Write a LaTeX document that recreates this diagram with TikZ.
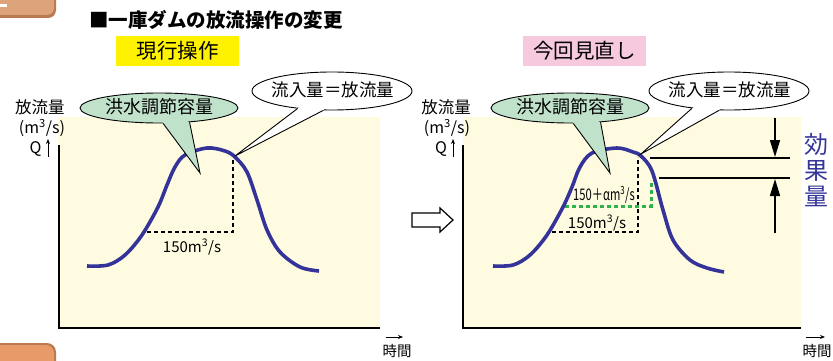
\documentclass[tikz,border=0pt]{standalone}
\usepackage{fontspec}
\setmainfont{Noto Sans CJK JP}
\usepackage{graphicx}
\usetikzlibrary{shapes.geometric,arrows.meta,calc}
\definecolor{cream}{HTML}{FFFBE1}
\definecolor{navy}{HTML}{33339A}
\definecolor{bubblegreen}{HTML}{C0E2CB}
\definecolor{ylw}{HTML}{FFF200}
\definecolor{pnk}{HTML}{F6C9DF}
\definecolor{grn}{HTML}{2DB34A}
\definecolor{wood}{HTML}{DDA47C}
\definecolor{wooddark}{HTML}{B97A50}
\definecolor{woodorange}{HTML}{E89A68}
\definecolor{effblue}{HTML}{36369A}
\tikzset{
  fs/.style={font=\fontsize{#1}{#1}\selectfont},
  fsb/.style={font=\fontsize{#1}{#1}\selectfont\bfseries},
  txt/.style={inner sep=0pt},
  bubbleshape/.style={ellipse, draw=black, line width=0.9pt, inner sep=0pt,
    minimum width=158pt, minimum height=#1},
  bubbleline/.style={black, line width=0.9pt, line join=miter},
  hydro/.style={navy, line width=3.6pt},
  guide/.style={black, line width=1.2pt, dash pattern=on 4pt off 3pt},
  greenguide/.style={grn, line width=3pt, dash pattern=on 4pt off 3pt},
  axisline/.style={black, line width=1.4pt},
  tagbox/.style={inner sep=0pt, minimum width=123pt, minimum height=30pt, fs=20.5},
  smallarrow/.style={black, line width=0.9pt, -{Stealth[length=5pt,width=4pt]}},
  effarrow/.style={black, line width=1.5pt, -{Triangle[length=17pt,width=10pt]}},
  effline/.style={black, line width=1.5pt},
}
\begin{document}
\begin{tikzpicture}[x=1pt,y=-1pt]
\useasboundingbox (0,0) rectangle (833,361);
\clip (0,0) rectangle (833,361);
\fill[white] (0,0) rectangle (833,361);

% wooden decorations (clipped pieces)
\fill[wooddark, rounded corners=8pt] (-20,-20) rectangle (56,18);
\fill[wood, rounded corners=7pt] (-20,-20) rectangle (54,15);
\fill[white] (0,4) rectangle (7,7);
\fill[wooddark, rounded corners=9pt] (-20,343) rectangle (56,380);
\fill[woodorange, rounded corners=8pt] (-20,345) rectangle (54,380);

% title
\node[txt, fsb=19.5] (title) at (216,20) {■一庫ダムの放流操作の変更};
\node[tagbox, fill=ylw] (tagL) at (177.5,51) {現行操作};
\node[tagbox, fill=pnk] (tagR) at (584.5,51) {今回見直し};

% ===== left panel =====
\fill[cream] (58,117) rectangle (380,328);
\draw[axisline] (59,145) -- (59,328) -- (380,328);
\node[txt, fs=16.5] (ylabL) at (40,107) {放流量};
\node[txt, fs=16] (unitL) at (42,128) {(m\textsuperscript{3}/s)};
\node[txt, fs=16] (qL) at (35.5,149) {Q};
\coordinate (qaL1) at (48,157);
\coordinate (qaL2) at (48,139);
\draw[smallarrow] (qaL1) -- (qaL2);
\node[txt, fs=14.5] (timeL) at (397,351) {時間};
\coordinate (taL1) at (386,337);
\coordinate (taL2) at (403,337);
\draw[smallarrow] (taL1) -- (taL2);

\coordinate (dL1) at (147,232);
\coordinate (dL2) at (233,232);
\coordinate (dL3) at (233,156);
\draw[guide] (dL1) -- (dL2) -- (dL3);
\node[txt, fs=15] (qL150) at (192,247) {150m\textsuperscript{3}/s};

\draw[hydro] plot[smooth, tension=0.55] coordinates {
 (87,266) (108,265) (125,255) (142,235) (158,207) (167,185)
 (175,167) (185,155) (207,148) (225,151) (235,157) (247,172) (257,200)
 (267,230) (280,252) (300,267) (319,271)};

% bubbles left
\node[bubbleshape=30pt, fill=bubblegreen] (gL) at (159,108) {};
\coordinate (gLtip) at (200,173);
\fill[bubblegreen] ($(gL.center)!0.75!(gL.285)$) -- (gL.285) -- (gLtip) -- (gL.335) -- ($(gL.center)!0.75!(gL.335)$) -- cycle;
\draw[bubbleline] (gL.285) -- (gLtip) -- (gL.335);
\node[txt, fs=18] (gLtext) at (159,107) {洪水調節容量};

\node[bubbleshape=38pt, minimum width=160pt, fill=white] (wL) at (332,91) {};
\coordinate (wLtip) at (235,156);
\fill[white] ($(wL.center)!0.75!(wL.207)$) -- (wL.207) -- (wLtip) -- (wL.246) -- ($(wL.center)!0.75!(wL.246)$) -- cycle;
\draw[bubbleline] (wL.207) -- (wLtip) -- (wL.246);
\node[txt, fs=17.5] (wLtext) at (333,90) {流入量＝放流量};

% hollow arrow
\draw[black, line width=1.2pt, fill=white, line join=miter]
  (412,213) -- (440,213) -- (440,208) -- (453,220) -- (440,232) -- (440,227) -- (412,227) -- cycle;

% ===== right panel =====
\fill[cream] (463,117) rectangle (801,328);
\draw[axisline] (463,145) -- (463,328) -- (801,328);
\node[txt, fs=16.5] (ylabR) at (446,107) {放流量};
\node[txt, fs=16] (unitR) at (447,128) {(m\textsuperscript{3}/s)};
\node[txt, fs=16] (qR) at (441,149) {Q};
\coordinate (qaR1) at (453,157);
\coordinate (qaR2) at (453,139);
\draw[smallarrow] (qaR1) -- (qaR2);
\node[txt, fs=14.5] (timeR) at (817,351) {時間};
\coordinate (taR1) at (806,337);
\coordinate (taR2) at (825,337);
\draw[smallarrow] (taR1) -- (taR2);

\coordinate (dR1) at (552,232);
\coordinate (dR2) at (638,232);
\coordinate (dR3) at (638,157);
\draw[guide] (dR1) -- (dR2) -- (dR3);
\coordinate (gR1) at (565,206);
\coordinate (gR2) at (651,206);
\coordinate (gR3) at (651,180);
\draw[greenguide] (gR1) -- (gR2) -- (gR3);
\node[txt, fs=15] (qR150) at (597,223) {150m\textsuperscript{3}/s};
\node[txt, fs=16] (qR150a) at (604,195) {\scalebox{0.7}[1]{150＋αm\textsuperscript{3}/s}};

\draw[hydro] plot[smooth, tension=0.55] coordinates {
 (493,266) (513,265) (530,255) (547,235) (563,207) (572,187)
 (580,167) (592,153) (617,148) (633,152) (641,156) (652,171) (663,210)
 (673,240) (690,260) (707,268) (724,272)};

% effect lines
\coordinate (e1a) at (650,158);
\coordinate (e1b) at (790,158);
\coordinate (e2a) at (659,178);
\coordinate (e2b) at (790,178);
\draw[effline] (e1a) -- (e1b);
\draw[effline] (e2a) -- (e2b);
\coordinate (ea1) at (775,118);
\coordinate (ea2) at (775,157);
\coordinate (eb1) at (775,233);
\coordinate (eb2) at (775,179);
\draw[effarrow] (ea1) -- (ea2);
\draw[effarrow] (eb1) -- (eb2);
\node[txt, text=effblue, align=center, font=\fontsize{24}{26}\selectfont] (eff) at (816,170) {効\\果\\量};

% bubbles right
\node[bubbleshape=30pt, fill=bubblegreen] (gR) at (570,108) {};
\coordinate (gRtip) at (610,173);
\fill[bubblegreen] ($(gR.center)!0.75!(gR.282)$) -- (gR.282) -- (gRtip) -- (gR.335) -- ($(gR.center)!0.75!(gR.335)$) -- cycle;
\draw[bubbleline] (gR.282) -- (gRtip) -- (gR.335);
\node[txt, fs=18] (gRtext) at (570,107) {洪水調節容量};

\node[bubbleshape=38pt, minimum width=160pt, fill=white] (wR) at (729,91) {};
\coordinate (wRtip) at (641,154);
\fill[white] ($(wR.center)!0.75!(wR.205)$) -- (wR.205) -- (wRtip) -- (wR.243) -- ($(wR.center)!0.75!(wR.243)$) -- cycle;
\draw[bubbleline] (wR.205) -- (wRtip) -- (wR.243);
\node[txt, fs=17.5] (wRtext) at (730,90) {流入量＝放流量};
\end{tikzpicture}
\end{document}
